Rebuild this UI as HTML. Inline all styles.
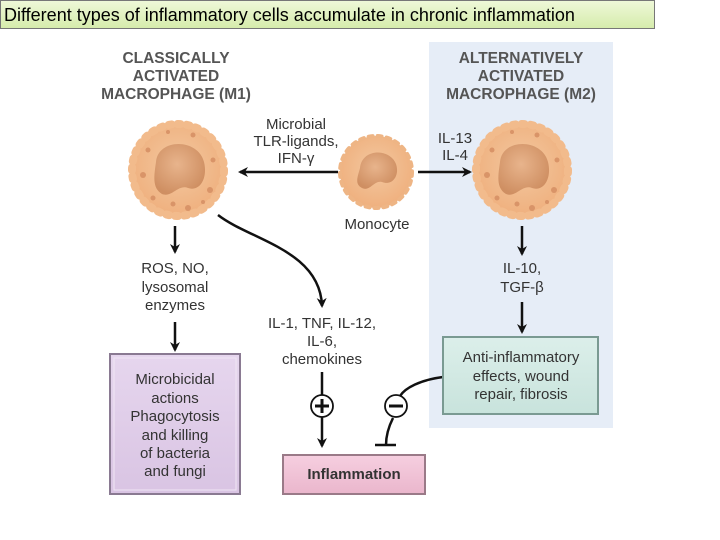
<!DOCTYPE html>
<html><head><meta charset="utf-8"><style>
html,body{margin:0;padding:0;background:#fff;}
body{width:720px;height:540px;overflow:hidden;position:relative;font-family:"Liberation Sans",Arial,sans-serif;}
.title{position:absolute;left:0;top:0;width:655px;height:29px;border:1px solid #777;background:linear-gradient(#eef8d8,#d6ecac);font-size:18px;line-height:29px;padding-left:3px;box-sizing:border-box;color:#000;}
svg{position:absolute;left:0;top:0;}
text{font-family:"Liberation Sans",Arial,sans-serif;fill:#333;}
</style></head><body>
<div class="title">Different types of inflammatory cells accumulate in chronic inflammation</div>
<svg width="720" height="540" viewBox="0 0 720 540">
<defs>
<radialGradient id="cg" cx="50%" cy="45%" r="55%"><stop offset="0" stop-color="#f3c8a0"/><stop offset="1" stop-color="#efb07e"/></radialGradient>
<radialGradient id="ng" cx="45%" cy="40%" r="60%"><stop offset="0" stop-color="#e8b48c"/><stop offset="1" stop-color="#cf8f62"/></radialGradient>
<marker id="ah" markerWidth="10" markerHeight="10" refX="8" refY="5" orient="auto" markerUnits="userSpaceOnUse"><path d="M0,0 L10,5 L0,10 L3,5 Z" fill="#111"/></marker>
<linearGradient id="pg" x1="0" y1="0" x2="0" y2="1"><stop offset="0" stop-color="#e6d6ee"/><stop offset="1" stop-color="#d9c4e3"/></linearGradient>
<linearGradient id="kg" x1="0" y1="0" x2="0" y2="1"><stop offset="0" stop-color="#f6cfe0"/><stop offset="1" stop-color="#eab6cc"/></linearGradient>
<linearGradient id="tg" x1="0" y1="0" x2="0" y2="1"><stop offset="0" stop-color="#dcefea"/><stop offset="1" stop-color="#c8e3dc"/></linearGradient>
</defs>
<rect x="429" y="42" width="184" height="386" fill="#e6edf7"/>
<g font-size="15.5" font-weight="bold" text-anchor="middle">
<text x="176" y="63" style="fill:#555">CLASSICALLY</text><text x="176" y="81" style="fill:#555">ACTIVATED</text><text x="176" y="99" style="fill:#555">MACROPHAGE (M1)</text>
<text x="521" y="63" style="fill:#555">ALTERNATIVELY</text><text x="521" y="81" style="fill:#555">ACTIVATED</text><text x="521" y="99" style="fill:#555">MACROPHAGE (M2)</text>
</g>
<g transform="translate(178,170)">
<circle r="46" fill="url(#cg)" stroke="#f2bb8c" stroke-width="8" stroke-dasharray="3 6" stroke-linecap="round"/>
<g fill="#d99468"><circle cx="-30" cy="-20" r="2.5"/><circle cx="-35" cy="5" r="3"/><circle cx="-25" cy="28" r="2.5"/><circle cx="10" cy="38" r="3"/><circle cx="32" cy="20" r="3"/><circle cx="35" cy="-10" r="2.5"/><circle cx="15" cy="-35" r="2.5"/><circle cx="-10" cy="-38" r="2"/><circle cx="-5" cy="34" r="2.5"/><circle cx="25" cy="32" r="2"/></g>
<path d="M-22,-8 C-20,-32 20,-32 26,-8 C30,8 22,22 10,18 C0,14 -6,28 -16,24 C-26,18 -24,6 -22,-8Z" fill="url(#ng)"/>
</g>
<g transform="translate(522,170)">
<circle r="46" fill="url(#cg)" stroke="#f2bb8c" stroke-width="8" stroke-dasharray="3 6" stroke-linecap="round"/>
<g fill="#d99468"><circle cx="-30" cy="-20" r="2.5"/><circle cx="-35" cy="5" r="3"/><circle cx="-25" cy="28" r="2.5"/><circle cx="10" cy="38" r="3"/><circle cx="32" cy="20" r="3"/><circle cx="35" cy="-10" r="2.5"/><circle cx="15" cy="-35" r="2.5"/><circle cx="-10" cy="-38" r="2"/><circle cx="-5" cy="34" r="2.5"/><circle cx="25" cy="32" r="2"/></g>
<path d="M-22,-8 C-20,-32 20,-32 26,-8 C30,8 22,22 10,18 C0,14 -6,28 -16,24 C-26,18 -24,6 -22,-8Z" fill="url(#ng)"/>
</g>
<g transform="translate(376,172)">
<circle r="36" fill="url(#cg)" stroke="#eeb585" stroke-width="4" stroke-dasharray="4 5" stroke-linecap="round"/>
<path d="M-16,-4 C-14,-24 14,-24 20,-8 C24,4 16,14 6,10 C-2,8 -6,20 -14,16 C-22,12 -18,4 -16,-4Z" fill="url(#ng)"/>
</g>
<g font-size="15" text-anchor="middle">
<text x="296" y="129">Microbial</text><text x="296" y="146">TLR-ligands,</text><text x="296" y="163">IFN-γ</text>
<text x="455" y="143">IL-13</text><text x="455" y="160">IL-4</text>
<text x="377" y="229">Monocyte</text>
<text x="175" y="273">ROS, NO,</text><text x="175" y="292">lysosomal</text><text x="175" y="310">enzymes</text>
<text x="322" y="328">IL-1, TNF, IL-12,</text><text x="322" y="346">IL-6,</text><text x="322" y="364">chemokines</text>
<text x="522" y="273">IL-10,</text><text x="522" y="292">TGF-β</text>
</g>
<g stroke="#111" stroke-width="2.5" fill="none">
<line x1="338" y1="172" x2="240" y2="172" marker-end="url(#ah)"/>
<line x1="418" y1="172" x2="470" y2="172" marker-end="url(#ah)"/>
<line x1="175" y1="226" x2="175" y2="252" marker-end="url(#ah)"/>
<line x1="175" y1="322" x2="175" y2="350" marker-end="url(#ah)"/>
<path d="M218,215 C250,240 320,250 322,306" marker-end="url(#ah)"/>
<line x1="322" y1="372" x2="322" y2="395"/>
<line x1="322" y1="417" x2="322" y2="446" marker-end="url(#ah)"/>
<line x1="522" y1="226" x2="522" y2="254" marker-end="url(#ah)"/>
<line x1="522" y1="302" x2="522" y2="332" marker-end="url(#ah)"/>
<path d="M443,377 C420,380 405,388 400,396"/>
<path d="M393,418 C388,428 386,436 386,445"/>
<line x1="375" y1="445" x2="396" y2="445"/>
</g>
<g stroke="#111" stroke-width="1.8" fill="#fff">
<circle cx="322" cy="406" r="11"/><circle cx="396" cy="406" r="11"/>
</g>
<g stroke="#111" stroke-width="3"><line x1="315" y1="406" x2="329" y2="406"/><line x1="322" y1="399" x2="322" y2="413"/><line x1="389" y1="406" x2="403" y2="406"/></g>
<rect x="110" y="354" width="130" height="140" fill="url(#pg)" stroke="#8a7a92" stroke-width="2"/>
<rect x="114" y="358" width="122" height="132" fill="none" stroke="#f0e6f4" stroke-width="1"/>
<g font-size="15" text-anchor="middle">
<text x="175" y="384">Microbicidal</text><text x="175" y="403">actions</text><text x="175" y="421">Phagocytosis</text><text x="175" y="440">and killing</text><text x="175" y="458">of bacteria</text><text x="175" y="476">and fungi</text>
</g>
<rect x="283" y="455" width="142" height="39" fill="url(#kg)" stroke="#9a7a88" stroke-width="2"/>
<text x="354" y="479" font-size="15" font-weight="bold" text-anchor="middle">Inflammation</text>
<rect x="443" y="337" width="155" height="77" fill="url(#tg)" stroke="#7a9a92" stroke-width="2"/>
<g font-size="15" text-anchor="middle">
<text x="521" y="362">Anti-inflammatory</text><text x="521" y="381">effects, wound</text><text x="521" y="399">repair, fibrosis</text>
</g>
</svg>
</body></html>
